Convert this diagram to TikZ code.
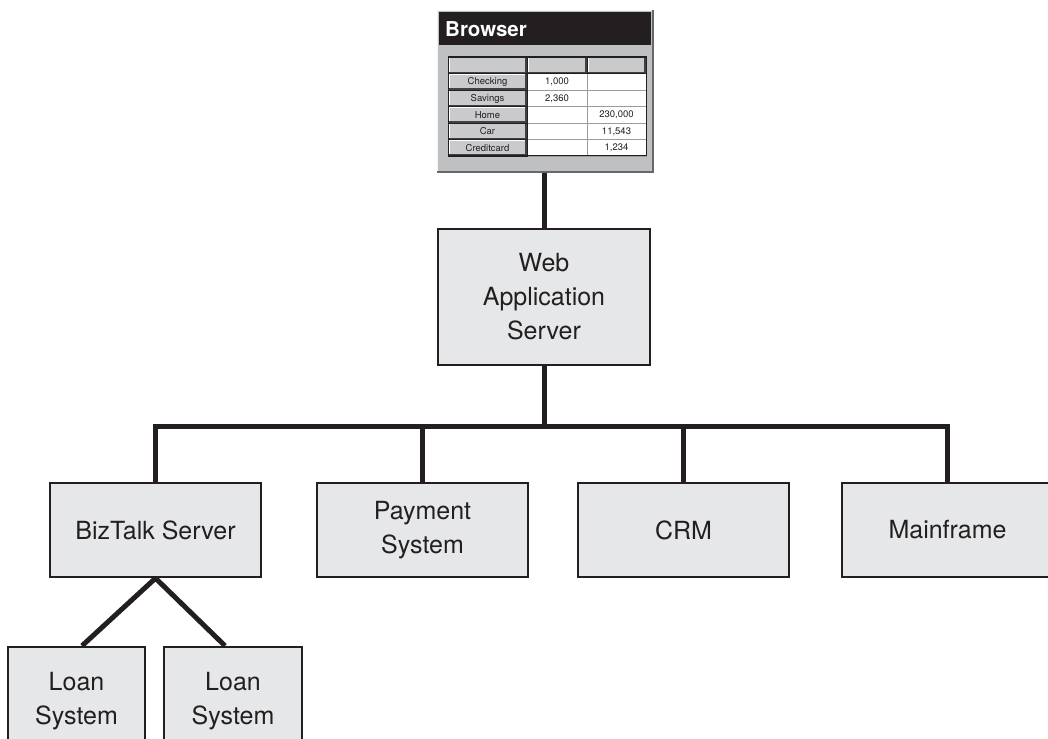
\documentclass[tikz,border=0pt]{standalone}
\usepackage{fontspec}
\setmainfont{TeX Gyre Heros}
\definecolor{ink}{HTML}{231F20}
\definecolor{boxfill}{HTML}{E6E7E8}
\definecolor{framegray}{HTML}{BFC0C2}
\definecolor{btnfill}{HTML}{C9CACC}
\definecolor{btndark}{HTML}{414042}
\definecolor{cellline}{HTML}{9A9B9D}
\pgfdeclarelayer{bg}
\pgfsetlayers{bg,main}
\begin{document}
\begin{tikzpicture}[x=1pt,y=-1pt,
  box/.style={draw=ink,line width=2.4pt,fill=boxfill,inner sep=0pt,align=center,
    font=\fontsize{25}{34}\selectfont,text=ink},
  conn/.style={draw=ink,line width=5pt},
  celltext/.style={font=\fontsize{9.5}{10}\selectfont,text=ink,inner sep=0pt}]
\useasboundingbox (0,0) rectangle (1048,738);
\clip (0,0) rectangle (1048,738);

% ---- browser window ----
\node[fill=framegray,minimum width=215pt,minimum height=161pt,inner sep=0pt] (browser) at (545,91) {};
\draw[white!85!framegray,line width=1.2pt] (browser.south west) -- (browser.north west) -- (browser.north east);
\draw[btndark!80,line width=2pt] (browser.north east) -- (browser.south east) -- (browser.south west);
\fill[ink] (439,12) rectangle (651,45);
\node[anchor=base west,text=white,font=\bfseries\fontsize{20.5}{21}\selectfont,inner sep=0pt] (btitle) at (445,37) {Browser};

% table
\fill[white] (527,73.5) rectangle (646,156);
\foreach \ya/\yb in {73.5/90,90/106.5,106.5/123,123/139.5,139.5/156}{
  \draw[cellline,line width=0.8pt] (527,\ya) rectangle (587,\yb);
  \draw[cellline,line width=0.8pt] (587,\ya) rectangle (646,\yb);
}
\foreach \xa/\xb/\ya/\yb in {448/527/57/73.5, 527/587/57/73.5, 587/646/57/73.5,
  448/527/73.5/90, 448/527/90/106.5, 448/527/106.5/123, 448/527/123/139.5, 448/527/139.5/156}{
  \fill[btnfill] (\xa,\ya) rectangle (\xb,\yb);
  \draw[white,line width=1pt] (\xa+1,\yb-1) -- (\xa+1,\ya+1) -- (\xb-1,\ya+1);
  \draw[btndark,line width=1.6pt] (\xb-1,\ya+1) -- (\xb-1,\yb-1) -- (\xa+1,\yb-1);
  \draw[ink,line width=0.8pt] (\xa,\ya) rectangle (\xb,\yb);
}
\draw[ink,line width=1pt] (448,57) rectangle (646,156);

\node[celltext] (r1a) at (487.5,82) {Checking};
\node[celltext] (r2a) at (487.5,98.5) {Savings};
\node[celltext] (r3a) at (487.5,115) {Home};
\node[celltext] (r4a) at (487.5,131.5) {Car};
\node[celltext] (r5a) at (487.5,148) {Creditcard};
\node[celltext] (r1b) at (557,82) {1,000};
\node[celltext] (r2b) at (557,98.5) {2,360};
\node[celltext] (r3c) at (616.5,115) {230,000};
\node[celltext] (r4c) at (616.5,131.5) {11,543};
\node[celltext] (r5c) at (616.5,148) {1,234};

% ---- boxes ----
\node[box,minimum width=212pt,minimum height=136pt] (web) at (544,297) {Web\\Application\\Server};
\node[box,minimum width=211pt,minimum height=94pt] (biz) at (155.5,530) {BizTalk Server};
\node[box,minimum width=211pt,minimum height=94pt] (pay) at (422.5,530) {Payment\\System};
\node[box,minimum width=211pt,minimum height=94pt] (crm) at (683.5,530) {CRM};
\node[box,minimum width=211pt,minimum height=94pt] (main) at (947.5,530) {Mainframe};
\node[box,minimum width=137pt,minimum height=108pt] (loan1) at (76.5,701) {Loan\\System};
\node[box,minimum width=138pt,minimum height=108pt] (loan2) at (233,701) {Loan\\System};

% ---- connectors ----
\coordinate (bus) at (544,426);
\begin{pgfonlayer}{bg}
\draw[conn] (browser.south -| web.north) -- (web.north);
\draw[conn] (web.south) -- (bus);
\draw[conn,line join=miter] (biz.north) |- (bus) -| (main.north);
\draw[conn] (pay.north) -- (pay.north |- bus);
\draw[conn] (crm.north) -- (crm.north |- bus);
\draw[conn,line join=miter] ([xshift=5.5pt]loan1.north) -- (biz.south) -- ([xshift=-8pt]loan2.north);
\end{pgfonlayer}
\end{tikzpicture}
\end{document}
